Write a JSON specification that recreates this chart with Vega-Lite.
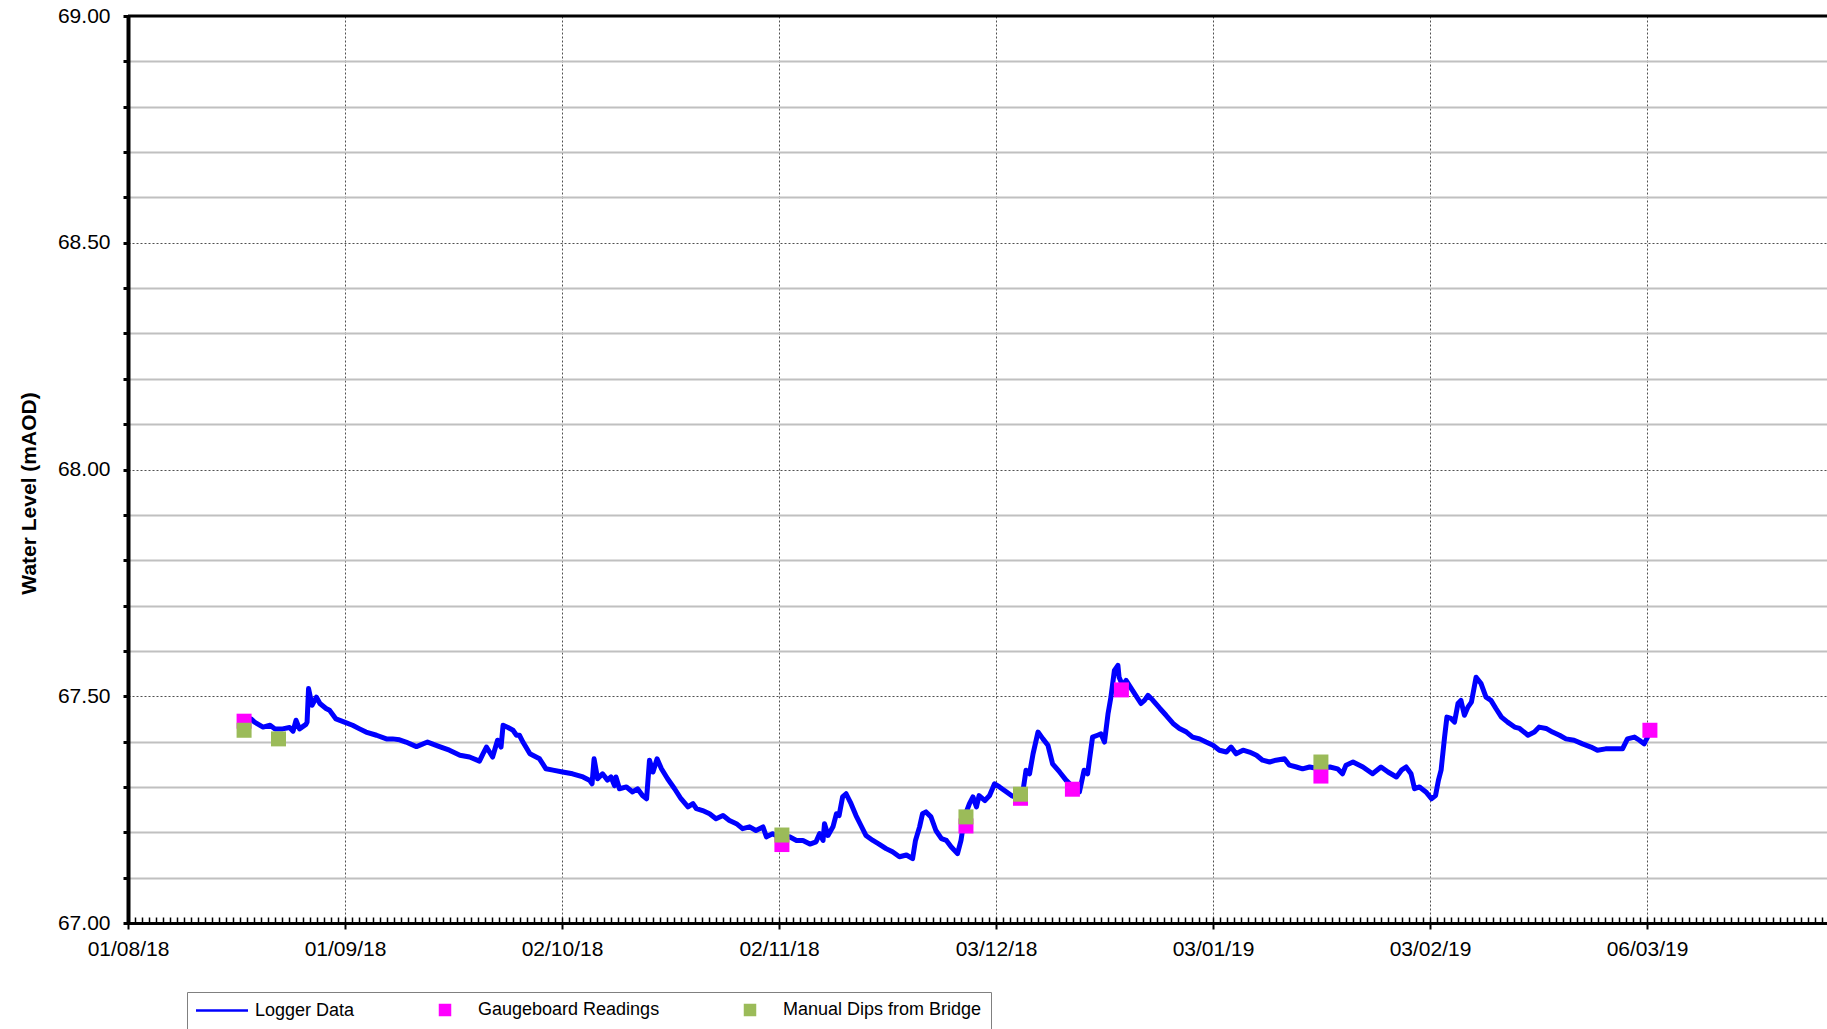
{
  "$schema": "https://vega.github.io/schema/vega-lite/v6.json",
  "width": 1701,
  "height": 907,
  "autosize": {"type": "none"},
  "padding": {"left": 128, "top": 16, "right": 0, "bottom": 106},
  "background": "white",
  "config": {
    "font": "Liberation Sans",
    "view": {"stroke": null},
    "axis": {"labelColor": "black", "labelFont": "Liberation Sans", "titleColor": "black", "titleFont": "Liberation Sans"},
    "legend": {"labelFont": "Liberation Sans", "labelColor": "black"}
  },
  "datasets": {
    "logger": [
      {"t": "2018-08-17T17:00", "v": 67.452, "series": "Logger Data"},
      {"t": "2018-08-18T14:00", "v": 67.450, "series": "Logger Data"},
      {"t": "2018-08-19T02:00", "v": 67.443, "series": "Logger Data"},
      {"t": "2018-08-20T07:00", "v": 67.432, "series": "Logger Data"},
      {"t": "2018-08-21T07:00", "v": 67.436, "series": "Logger Data"},
      {"t": "2018-08-22T00:00", "v": 67.428, "series": "Logger Data"},
      {"t": "2018-08-23T02:00", "v": 67.428, "series": "Logger Data"},
      {"t": "2018-08-24T02:00", "v": 67.431, "series": "Logger Data"},
      {"t": "2018-08-24T14:00", "v": 67.423, "series": "Logger Data"},
      {"t": "2018-08-25T00:00", "v": 67.447, "series": "Logger Data"},
      {"t": "2018-08-25T12:00", "v": 67.428, "series": "Logger Data"},
      {"t": "2018-08-26T10:00", "v": 67.438, "series": "Logger Data"},
      {"t": "2018-08-26T14:00", "v": 67.443, "series": "Logger Data"},
      {"t": "2018-08-26T19:00", "v": 67.517, "series": "Logger Data"},
      {"t": "2018-08-27T07:00", "v": 67.480, "series": "Logger Data"},
      {"t": "2018-08-27T22:00", "v": 67.498, "series": "Logger Data"},
      {"t": "2018-08-28T10:00", "v": 67.484, "series": "Logger Data"},
      {"t": "2018-08-29T07:00", "v": 67.473, "series": "Logger Data"},
      {"t": "2018-08-29T19:00", "v": 67.469, "series": "Logger Data"},
      {"t": "2018-08-30T17:00", "v": 67.450, "series": "Logger Data"},
      {"t": "2018-08-31T22:00", "v": 67.443, "series": "Logger Data"},
      {"t": "2018-09-02T02:00", "v": 67.436, "series": "Logger Data"},
      {"t": "2018-09-03T02:00", "v": 67.428, "series": "Logger Data"},
      {"t": "2018-09-04T00:00", "v": 67.421, "series": "Logger Data"},
      {"t": "2018-09-05T12:00", "v": 67.414, "series": "Logger Data"},
      {"t": "2018-09-06T22:00", "v": 67.406, "series": "Logger Data"},
      {"t": "2018-09-07T19:00", "v": 67.406, "series": "Logger Data"},
      {"t": "2018-09-08T19:00", "v": 67.404, "series": "Logger Data"},
      {"t": "2018-09-09T17:00", "v": 67.399, "series": "Logger Data"},
      {"t": "2018-09-11T05:00", "v": 67.389, "series": "Logger Data"},
      {"t": "2018-09-12T19:00", "v": 67.399, "series": "Logger Data"},
      {"t": "2018-09-14T12:00", "v": 67.389, "series": "Logger Data"},
      {"t": "2018-09-15T22:00", "v": 67.381, "series": "Logger Data"},
      {"t": "2018-09-17T10:00", "v": 67.370, "series": "Logger Data"},
      {"t": "2018-09-18T19:00", "v": 67.366, "series": "Logger Data"},
      {"t": "2018-09-20T05:00", "v": 67.357, "series": "Logger Data"},
      {"t": "2018-09-20T17:00", "v": 67.373, "series": "Logger Data"},
      {"t": "2018-09-21T05:00", "v": 67.388, "series": "Logger Data"},
      {"t": "2018-09-22T02:00", "v": 67.366, "series": "Logger Data"},
      {"t": "2018-09-22T19:00", "v": 67.403, "series": "Logger Data"},
      {"t": "2018-09-23T07:00", "v": 67.388, "series": "Logger Data"},
      {"t": "2018-09-23T14:00", "v": 67.436, "series": "Logger Data"},
      {"t": "2018-09-24T07:00", "v": 67.431, "series": "Logger Data"},
      {"t": "2018-09-25T00:00", "v": 67.425, "series": "Logger Data"},
      {"t": "2018-09-25T12:00", "v": 67.414, "series": "Logger Data"},
      {"t": "2018-09-25T22:00", "v": 67.414, "series": "Logger Data"},
      {"t": "2018-09-26T10:00", "v": 67.399, "series": "Logger Data"},
      {"t": "2018-09-27T10:00", "v": 67.373, "series": "Logger Data"},
      {"t": "2018-09-28T19:00", "v": 67.362, "series": "Logger Data"},
      {"t": "2018-09-29T17:00", "v": 67.340, "series": "Logger Data"},
      {"t": "2018-09-30T17:00", "v": 67.337, "series": "Logger Data"},
      {"t": "2018-10-02T02:00", "v": 67.333, "series": "Logger Data"},
      {"t": "2018-10-03T12:00", "v": 67.329, "series": "Logger Data"},
      {"t": "2018-10-05T00:00", "v": 67.322, "series": "Logger Data"},
      {"t": "2018-10-05T22:00", "v": 67.315, "series": "Logger Data"},
      {"t": "2018-10-06T07:00", "v": 67.307, "series": "Logger Data"},
      {"t": "2018-10-06T14:00", "v": 67.362, "series": "Logger Data"},
      {"t": "2018-10-07T02:00", "v": 67.318, "series": "Logger Data"},
      {"t": "2018-10-07T19:00", "v": 67.329, "series": "Logger Data"},
      {"t": "2018-10-08T12:00", "v": 67.315, "series": "Logger Data"},
      {"t": "2018-10-09T00:00", "v": 67.322, "series": "Logger Data"},
      {"t": "2018-10-09T12:00", "v": 67.303, "series": "Logger Data"},
      {"t": "2018-10-09T17:00", "v": 67.322, "series": "Logger Data"},
      {"t": "2018-10-10T05:00", "v": 67.296, "series": "Logger Data"},
      {"t": "2018-10-11T05:00", "v": 67.300, "series": "Logger Data"},
      {"t": "2018-10-12T02:00", "v": 67.289, "series": "Logger Data"},
      {"t": "2018-10-12T19:00", "v": 67.296, "series": "Logger Data"},
      {"t": "2018-10-13T12:00", "v": 67.281, "series": "Logger Data"},
      {"t": "2018-10-14T02:00", "v": 67.274, "series": "Logger Data"},
      {"t": "2018-10-14T12:00", "v": 67.359, "series": "Logger Data"},
      {"t": "2018-10-15T00:00", "v": 67.333, "series": "Logger Data"},
      {"t": "2018-10-15T14:00", "v": 67.362, "series": "Logger Data"},
      {"t": "2018-10-16T05:00", "v": 67.340, "series": "Logger Data"},
      {"t": "2018-10-17T02:00", "v": 67.318, "series": "Logger Data"},
      {"t": "2018-10-18T02:00", "v": 67.296, "series": "Logger Data"},
      {"t": "2018-10-19T00:00", "v": 67.274, "series": "Logger Data"},
      {"t": "2018-10-20T00:00", "v": 67.256, "series": "Logger Data"},
      {"t": "2018-10-20T17:00", "v": 67.263, "series": "Logger Data"},
      {"t": "2018-10-21T05:00", "v": 67.252, "series": "Logger Data"},
      {"t": "2018-10-22T02:00", "v": 67.248, "series": "Logger Data"},
      {"t": "2018-10-23T02:00", "v": 67.241, "series": "Logger Data"},
      {"t": "2018-10-24T00:00", "v": 67.230, "series": "Logger Data"},
      {"t": "2018-10-25T00:00", "v": 67.237, "series": "Logger Data"},
      {"t": "2018-10-25T22:00", "v": 67.226, "series": "Logger Data"},
      {"t": "2018-10-26T22:00", "v": 67.219, "series": "Logger Data"},
      {"t": "2018-10-27T19:00", "v": 67.208, "series": "Logger Data"},
      {"t": "2018-10-28T19:00", "v": 67.212, "series": "Logger Data"},
      {"t": "2018-10-29T17:00", "v": 67.204, "series": "Logger Data"},
      {"t": "2018-10-30T17:00", "v": 67.212, "series": "Logger Data"},
      {"t": "2018-10-31T05:00", "v": 67.190, "series": "Logger Data"},
      {"t": "2018-11-01T02:00", "v": 67.197, "series": "Logger Data"},
      {"t": "2018-11-02T07:00", "v": 67.186, "series": "Logger Data"},
      {"t": "2018-11-03T12:00", "v": 67.190, "series": "Logger Data"},
      {"t": "2018-11-04T12:00", "v": 67.182, "series": "Logger Data"},
      {"t": "2018-11-05T10:00", "v": 67.182, "series": "Logger Data"},
      {"t": "2018-11-06T10:00", "v": 67.174, "series": "Logger Data"},
      {"t": "2018-11-07T07:00", "v": 67.179, "series": "Logger Data"},
      {"t": "2018-11-07T19:00", "v": 67.197, "series": "Logger Data"},
      {"t": "2018-11-08T07:00", "v": 67.182, "series": "Logger Data"},
      {"t": "2018-11-08T12:00", "v": 67.219, "series": "Logger Data"},
      {"t": "2018-11-09T00:00", "v": 67.193, "series": "Logger Data"},
      {"t": "2018-11-09T17:00", "v": 67.212, "series": "Logger Data"},
      {"t": "2018-11-10T05:00", "v": 67.241, "series": "Logger Data"},
      {"t": "2018-11-10T14:00", "v": 67.237, "series": "Logger Data"},
      {"t": "2018-11-11T02:00", "v": 67.278, "series": "Logger Data"},
      {"t": "2018-11-11T14:00", "v": 67.285, "series": "Logger Data"},
      {"t": "2018-11-12T07:00", "v": 67.263, "series": "Logger Data"},
      {"t": "2018-11-13T00:00", "v": 67.237, "series": "Logger Data"},
      {"t": "2018-11-13T17:00", "v": 67.215, "series": "Logger Data"},
      {"t": "2018-11-14T10:00", "v": 67.193, "series": "Logger Data"},
      {"t": "2018-11-15T10:00", "v": 67.182, "series": "Logger Data"},
      {"t": "2018-11-16T07:00", "v": 67.174, "series": "Logger Data"},
      {"t": "2018-11-17T07:00", "v": 67.164, "series": "Logger Data"},
      {"t": "2018-11-18T05:00", "v": 67.157, "series": "Logger Data"},
      {"t": "2018-11-19T05:00", "v": 67.146, "series": "Logger Data"},
      {"t": "2018-11-20T05:00", "v": 67.150, "series": "Logger Data"},
      {"t": "2018-11-21T02:00", "v": 67.142, "series": "Logger Data"},
      {"t": "2018-11-21T12:00", "v": 67.182, "series": "Logger Data"},
      {"t": "2018-11-22T02:00", "v": 67.212, "series": "Logger Data"},
      {"t": "2018-11-22T12:00", "v": 67.241, "series": "Logger Data"},
      {"t": "2018-11-23T00:00", "v": 67.245, "series": "Logger Data"},
      {"t": "2018-11-23T17:00", "v": 67.234, "series": "Logger Data"},
      {"t": "2018-11-24T10:00", "v": 67.204, "series": "Logger Data"},
      {"t": "2018-11-25T05:00", "v": 67.186, "series": "Logger Data"},
      {"t": "2018-11-25T22:00", "v": 67.182, "series": "Logger Data"},
      {"t": "2018-11-26T14:00", "v": 67.168, "series": "Logger Data"},
      {"t": "2018-11-27T12:00", "v": 67.153, "series": "Logger Data"},
      {"t": "2018-11-28T00:00", "v": 67.182, "series": "Logger Data"},
      {"t": "2018-11-28T07:00", "v": 67.212, "series": "Logger Data"},
      {"t": "2018-11-28T12:00", "v": 67.234, "series": "Logger Data"},
      {"t": "2018-11-29T05:00", "v": 67.263, "series": "Logger Data"},
      {"t": "2018-11-29T17:00", "v": 67.278, "series": "Logger Data"},
      {"t": "2018-11-30T05:00", "v": 67.256, "series": "Logger Data"},
      {"t": "2018-11-30T14:00", "v": 67.281, "series": "Logger Data"},
      {"t": "2018-12-01T10:00", "v": 67.270, "series": "Logger Data"},
      {"t": "2018-12-02T02:00", "v": 67.281, "series": "Logger Data"},
      {"t": "2018-12-02T19:00", "v": 67.307, "series": "Logger Data"},
      {"t": "2018-12-03T12:00", "v": 67.300, "series": "Logger Data"},
      {"t": "2018-12-04T05:00", "v": 67.292, "series": "Logger Data"},
      {"t": "2018-12-05T05:00", "v": 67.281, "series": "Logger Data"},
      {"t": "2018-12-05T17:00", "v": 67.278, "series": "Logger Data"},
      {"t": "2018-12-06T19:00", "v": 67.285, "series": "Logger Data"},
      {"t": "2018-12-07T07:00", "v": 67.337, "series": "Logger Data"},
      {"t": "2018-12-07T19:00", "v": 67.329, "series": "Logger Data"},
      {"t": "2018-12-08T07:00", "v": 67.373, "series": "Logger Data"},
      {"t": "2018-12-09T00:00", "v": 67.421, "series": "Logger Data"},
      {"t": "2018-12-09T17:00", "v": 67.406, "series": "Logger Data"},
      {"t": "2018-12-10T10:00", "v": 67.392, "series": "Logger Data"},
      {"t": "2018-12-11T02:00", "v": 67.351, "series": "Logger Data"},
      {"t": "2018-12-12T02:00", "v": 67.333, "series": "Logger Data"},
      {"t": "2018-12-13T00:00", "v": 67.315, "series": "Logger Data"},
      {"t": "2018-12-14T00:00", "v": 67.300, "series": "Logger Data"},
      {"t": "2018-12-14T22:00", "v": 67.289, "series": "Logger Data"},
      {"t": "2018-12-15T14:00", "v": 67.337, "series": "Logger Data"},
      {"t": "2018-12-16T02:00", "v": 67.329, "series": "Logger Data"},
      {"t": "2018-12-16T19:00", "v": 67.410, "series": "Logger Data"},
      {"t": "2018-12-17T12:00", "v": 67.414, "series": "Logger Data"},
      {"t": "2018-12-18T00:00", "v": 67.417, "series": "Logger Data"},
      {"t": "2018-12-18T12:00", "v": 67.399, "series": "Logger Data"},
      {"t": "2018-12-19T00:00", "v": 67.461, "series": "Logger Data"},
      {"t": "2018-12-19T10:00", "v": 67.498, "series": "Logger Data"},
      {"t": "2018-12-19T22:00", "v": 67.557, "series": "Logger Data"},
      {"t": "2018-12-20T10:00", "v": 67.568, "series": "Logger Data"},
      {"t": "2018-12-20T14:00", "v": 67.542, "series": "Logger Data"},
      {"t": "2018-12-21T02:00", "v": 67.524, "series": "Logger Data"},
      {"t": "2018-12-21T14:00", "v": 67.535, "series": "Logger Data"},
      {"t": "2018-12-22T12:00", "v": 67.513, "series": "Logger Data"},
      {"t": "2018-12-23T17:00", "v": 67.484, "series": "Logger Data"},
      {"t": "2018-12-24T05:00", "v": 67.491, "series": "Logger Data"},
      {"t": "2018-12-24T17:00", "v": 67.502, "series": "Logger Data"},
      {"t": "2018-12-25T10:00", "v": 67.491, "series": "Logger Data"},
      {"t": "2018-12-26T10:00", "v": 67.473, "series": "Logger Data"},
      {"t": "2018-12-27T07:00", "v": 67.458, "series": "Logger Data"},
      {"t": "2018-12-28T07:00", "v": 67.440, "series": "Logger Data"},
      {"t": "2018-12-29T05:00", "v": 67.429, "series": "Logger Data"},
      {"t": "2018-12-30T05:00", "v": 67.421, "series": "Logger Data"},
      {"t": "2018-12-31T02:00", "v": 67.410, "series": "Logger Data"},
      {"t": "2019-01-01T02:00", "v": 67.406, "series": "Logger Data"},
      {"t": "2019-01-02T00:00", "v": 67.399, "series": "Logger Data"},
      {"t": "2019-01-03T00:00", "v": 67.392, "series": "Logger Data"},
      {"t": "2019-01-03T22:00", "v": 67.381, "series": "Logger Data"},
      {"t": "2019-01-04T22:00", "v": 67.377, "series": "Logger Data"},
      {"t": "2019-01-05T14:00", "v": 67.388, "series": "Logger Data"},
      {"t": "2019-01-06T07:00", "v": 67.373, "series": "Logger Data"},
      {"t": "2019-01-07T07:00", "v": 67.381, "series": "Logger Data"},
      {"t": "2019-01-08T05:00", "v": 67.377, "series": "Logger Data"},
      {"t": "2019-01-09T05:00", "v": 67.370, "series": "Logger Data"},
      {"t": "2019-01-10T02:00", "v": 67.359, "series": "Logger Data"},
      {"t": "2019-01-11T02:00", "v": 67.355, "series": "Logger Data"},
      {"t": "2019-01-12T00:00", "v": 67.359, "series": "Logger Data"},
      {"t": "2019-01-13T05:00", "v": 67.362, "series": "Logger Data"},
      {"t": "2019-01-13T22:00", "v": 67.348, "series": "Logger Data"},
      {"t": "2019-01-14T22:00", "v": 67.344, "series": "Logger Data"},
      {"t": "2019-01-15T19:00", "v": 67.340, "series": "Logger Data"},
      {"t": "2019-01-16T19:00", "v": 67.344, "series": "Logger Data"},
      {"t": "2019-01-18T05:00", "v": 67.340, "series": "Logger Data"},
      {"t": "2019-01-19T17:00", "v": 67.344, "series": "Logger Data"},
      {"t": "2019-01-20T19:00", "v": 67.340, "series": "Logger Data"},
      {"t": "2019-01-21T12:00", "v": 67.329, "series": "Logger Data"},
      {"t": "2019-01-22T00:00", "v": 67.348, "series": "Logger Data"},
      {"t": "2019-01-23T00:00", "v": 67.355, "series": "Logger Data"},
      {"t": "2019-01-24T10:00", "v": 67.344, "series": "Logger Data"},
      {"t": "2019-01-25T19:00", "v": 67.329, "series": "Logger Data"},
      {"t": "2019-01-27T00:00", "v": 67.344, "series": "Logger Data"},
      {"t": "2019-01-28T00:00", "v": 67.333, "series": "Logger Data"},
      {"t": "2019-01-29T05:00", "v": 67.322, "series": "Logger Data"},
      {"t": "2019-01-29T22:00", "v": 67.337, "series": "Logger Data"},
      {"t": "2019-01-30T14:00", "v": 67.344, "series": "Logger Data"},
      {"t": "2019-01-31T07:00", "v": 67.329, "series": "Logger Data"},
      {"t": "2019-01-31T19:00", "v": 67.296, "series": "Logger Data"},
      {"t": "2019-02-01T12:00", "v": 67.300, "series": "Logger Data"},
      {"t": "2019-02-02T10:00", "v": 67.289, "series": "Logger Data"},
      {"t": "2019-02-03T05:00", "v": 67.274, "series": "Logger Data"},
      {"t": "2019-02-03T19:00", "v": 67.281, "series": "Logger Data"},
      {"t": "2019-02-04T05:00", "v": 67.315, "series": "Logger Data"},
      {"t": "2019-02-04T14:00", "v": 67.337, "series": "Logger Data"},
      {"t": "2019-02-05T02:00", "v": 67.410, "series": "Logger Data"},
      {"t": "2019-02-05T10:00", "v": 67.454, "series": "Logger Data"},
      {"t": "2019-02-06T00:00", "v": 67.451, "series": "Logger Data"},
      {"t": "2019-02-06T12:00", "v": 67.443, "series": "Logger Data"},
      {"t": "2019-02-07T00:00", "v": 67.484, "series": "Logger Data"},
      {"t": "2019-02-07T10:00", "v": 67.491, "series": "Logger Data"},
      {"t": "2019-02-07T22:00", "v": 67.458, "series": "Logger Data"},
      {"t": "2019-02-08T10:00", "v": 67.476, "series": "Logger Data"},
      {"t": "2019-02-08T22:00", "v": 67.487, "series": "Logger Data"},
      {"t": "2019-02-09T14:00", "v": 67.542, "series": "Logger Data"},
      {"t": "2019-02-10T07:00", "v": 67.528, "series": "Logger Data"},
      {"t": "2019-02-11T00:00", "v": 67.498, "series": "Logger Data"},
      {"t": "2019-02-11T17:00", "v": 67.491, "series": "Logger Data"},
      {"t": "2019-02-12T10:00", "v": 67.473, "series": "Logger Data"},
      {"t": "2019-02-13T05:00", "v": 67.454, "series": "Logger Data"},
      {"t": "2019-02-14T02:00", "v": 67.443, "series": "Logger Data"},
      {"t": "2019-02-15T02:00", "v": 67.432, "series": "Logger Data"},
      {"t": "2019-02-15T19:00", "v": 67.429, "series": "Logger Data"},
      {"t": "2019-02-17T00:00", "v": 67.414, "series": "Logger Data"},
      {"t": "2019-02-17T22:00", "v": 67.421, "series": "Logger Data"},
      {"t": "2019-02-18T14:00", "v": 67.432, "series": "Logger Data"},
      {"t": "2019-02-19T14:00", "v": 67.429, "series": "Logger Data"},
      {"t": "2019-02-20T12:00", "v": 67.421, "series": "Logger Data"},
      {"t": "2019-02-21T12:00", "v": 67.414, "series": "Logger Data"},
      {"t": "2019-02-22T10:00", "v": 67.406, "series": "Logger Data"},
      {"t": "2019-02-23T14:00", "v": 67.403, "series": "Logger Data"},
      {"t": "2019-02-24T19:00", "v": 67.395, "series": "Logger Data"},
      {"t": "2019-02-26T00:00", "v": 67.388, "series": "Logger Data"},
      {"t": "2019-02-26T22:00", "v": 67.381, "series": "Logger Data"},
      {"t": "2019-02-28T02:00", "v": 67.384, "series": "Logger Data"},
      {"t": "2019-03-01T07:00", "v": 67.384, "series": "Logger Data"},
      {"t": "2019-03-02T12:00", "v": 67.384, "series": "Logger Data"},
      {"t": "2019-03-03T05:00", "v": 67.406, "series": "Logger Data"},
      {"t": "2019-03-04T05:00", "v": 67.410, "series": "Logger Data"},
      {"t": "2019-03-04T22:00", "v": 67.403, "series": "Logger Data"},
      {"t": "2019-03-05T14:00", "v": 67.395, "series": "Logger Data"},
      {"t": "2019-03-06T02:00", "v": 67.410, "series": "Logger Data"},
      {"t": "2019-03-06T07:00", "v": 67.418, "series": "Logger Data"}
    ],
    "readings": [
      {"t": "2018-08-17T14:00", "v": 67.445, "series": "Gaugeboard Readings"},
      {"t": "2018-11-02T10:00", "v": 67.173, "series": "Gaugeboard Readings"},
      {"t": "2018-11-28T17:00", "v": 67.214, "series": "Gaugeboard Readings"},
      {"t": "2018-12-06T12:00", "v": 67.275, "series": "Gaugeboard Readings"},
      {"t": "2018-12-13T22:00", "v": 67.295, "series": "Gaugeboard Readings"},
      {"t": "2018-12-20T22:00", "v": 67.514, "series": "Gaugeboard Readings"},
      {"t": "2019-01-18T10:00", "v": 67.324, "series": "Gaugeboard Readings"},
      {"t": "2019-03-06T10:00", "v": 67.425, "series": "Gaugeboard Readings"},
      {"t": "2018-08-17T14:00", "v": 67.425, "series": "Manual Dips from Bridge"},
      {"t": "2018-08-22T12:00", "v": 67.406, "series": "Manual Dips from Bridge"},
      {"t": "2018-11-02T10:00", "v": 67.194, "series": "Manual Dips from Bridge"},
      {"t": "2018-11-28T17:00", "v": 67.234, "series": "Manual Dips from Bridge"},
      {"t": "2018-12-06T12:00", "v": 67.284, "series": "Manual Dips from Bridge"},
      {"t": "2019-01-18T10:00", "v": 67.355, "series": "Manual Dips from Bridge"}
    ],
    "border": [
      {"level": 69}
    ]
  },
  "resolve": {"axis": {"x": "independent"}},
  "layer": [
    {
      "data": {"name": "logger"},
      "mark": {"type": "line", "strokeWidth": 5, "strokeJoin": "round", "interpolate": "linear"},
      "encoding": {
        "x": {
          "field": "t", "type": "temporal",
          "scale": {"domain": [{"year": 2018, "month": 8, "date": 1}, {"year": 2019, "month": 4, "date": 1}]},
          "axis": {
            "orient": "bottom",
            "title": null,
            "values": [
              {"year": 2018, "month": 8, "date": 1},
              {"year": 2018, "month": 9, "date": 1},
              {"year": 2018, "month": 10, "date": 2},
              {"year": 2018, "month": 11, "date": 2},
              {"year": 2018, "month": 12, "date": 3},
              {"year": 2019, "month": 1, "date": 3},
              {"year": 2019, "month": 2, "date": 3},
              {"year": 2019, "month": 3, "date": 6}
            ],
            "format": "%d/%m/%y",
            "labelFontSize": 21,
            "labelPadding": 9,
            "labelFlush": false,
            "labelOverlap": false,
            "domainColor": "black",
            "domainWidth": 3,
            "tickColor": "black",
            "tickWidth": 2,
            "tickSize": 6,
            "grid": true,
            "gridColor": "#505050",
            "gridDash": [2, 2],
            "gridWidth": 1
          }
        },
        "y": {
          "field": "v", "type": "quantitative",
          "scale": {"domain": [67, 69], "zero": false, "nice": false},
          "axis": {
            "title": "Water Level (mAOD)",
            "titleFontSize": 21,
            "titleFontWeight": "bold",
            "titleAngle": 270,
            "titleAlign": "center",
            "titleBaseline": "alphabetic",
            "titleX": -93,
            "titleY": 477,
            "values": [67, 67.1, 67.2, 67.3, 67.4, 67.5, 67.6, 67.7, 67.8, 67.9, 68, 68.1, 68.2, 68.3, 68.4, 68.5, 68.6, 68.7, 68.8, 68.9, 69],
            "labelExpr": "abs(round(datum.value * 10)) % 5 == 0 ? format(datum.value, '.2f') : ''",
            "labelFontSize": 21,
            "labelPadding": 13,
            "labelOverlap": false,
            "labelFlush": false,
            "domainColor": "black",
            "domainWidth": 4,
            "tickColor": "black",
            "tickWidth": 3,
            "tickSize": 5,
            "grid": true,
            "gridColor": {"condition": {"test": "abs(round(datum.value * 10)) % 5 == 0", "value": "#505050"}, "value": "#c0c0c0"},
            "gridDash": {"condition": {"test": "abs(round(datum.value * 10)) % 5 == 0", "value": [2, 2]}, "value": []},
            "gridWidth": {"condition": {"test": "abs(round(datum.value * 10)) % 5 == 0", "value": 1}, "value": 1.8}
          }
        },
        "color": {
          "field": "series", "type": "nominal",
          "scale": {"domain": ["Logger Data", "Gaugeboard Readings", "Manual Dips from Bridge"], "range": ["#0000FF", "#FF00FF", "#9BBB59"]},
          "legend": {
            "title": null,
            "orient": "none",
            "legendX": 59,
            "legendY": 976,
            "direction": "horizontal",
            "strokeColor": "#808080",
            "fillColor": "white",
            "padding": 9,
            "symbolStrokeWidth": 2.5,
            "symbolOpacity": 1,
            "symbolOffset": 17,
            "labelFontSize": 18,
            "labelOffset": 24,
            "columnPadding": 64,
            "labelLimit": 400,
            "encode": {
              "symbols": {
                "update": {
                  "shape": {"signal": "datum.value === 'Logger Data' ? 'stroke' : 'square'"},
                  "size": {"signal": "datum.value === 'Logger Data' ? 2704 : 100"},
                  "fill": {"signal": "datum.value === 'Gaugeboard Readings' ? '#FF00FF' : (datum.value === 'Manual Dips from Bridge' ? '#9BBB59' : 'transparent')"},
                  "stroke": {"signal": "datum.value === 'Logger Data' ? '#0000FF' : 'transparent'"},
                  "strokeWidth": {"value": 2.5},
                  "opacity": {"value": 1}
                }
              }
            }
          }
        }
      }
    },
    {
      "data": {"name": "readings"},
      "mark": {"type": "point", "shape": "square", "filled": true, "size": 225, "opacity": 1},
      "encoding": {
        "x": {
          "field": "t", "type": "temporal",
          "axis": {
            "orient": "bottom",
            "title": null,
            "tickCount": {"interval": "day", "step": 1},
            "labels": false,
            "grid": false,
            "domain": false,
            "tickColor": "black",
            "tickWidth": 1.5,
            "tickSize": -6
          }
        },
        "y": {"field": "v", "type": "quantitative"},
        "color": {"field": "series", "type": "nominal"}
      }
    },
    {
      "data": {"name": "border"},
      "mark": {"type": "rule", "color": "black", "strokeWidth": 3},
      "encoding": {"y": {"field": "level", "type": "quantitative"}}
    }
  ]
}
